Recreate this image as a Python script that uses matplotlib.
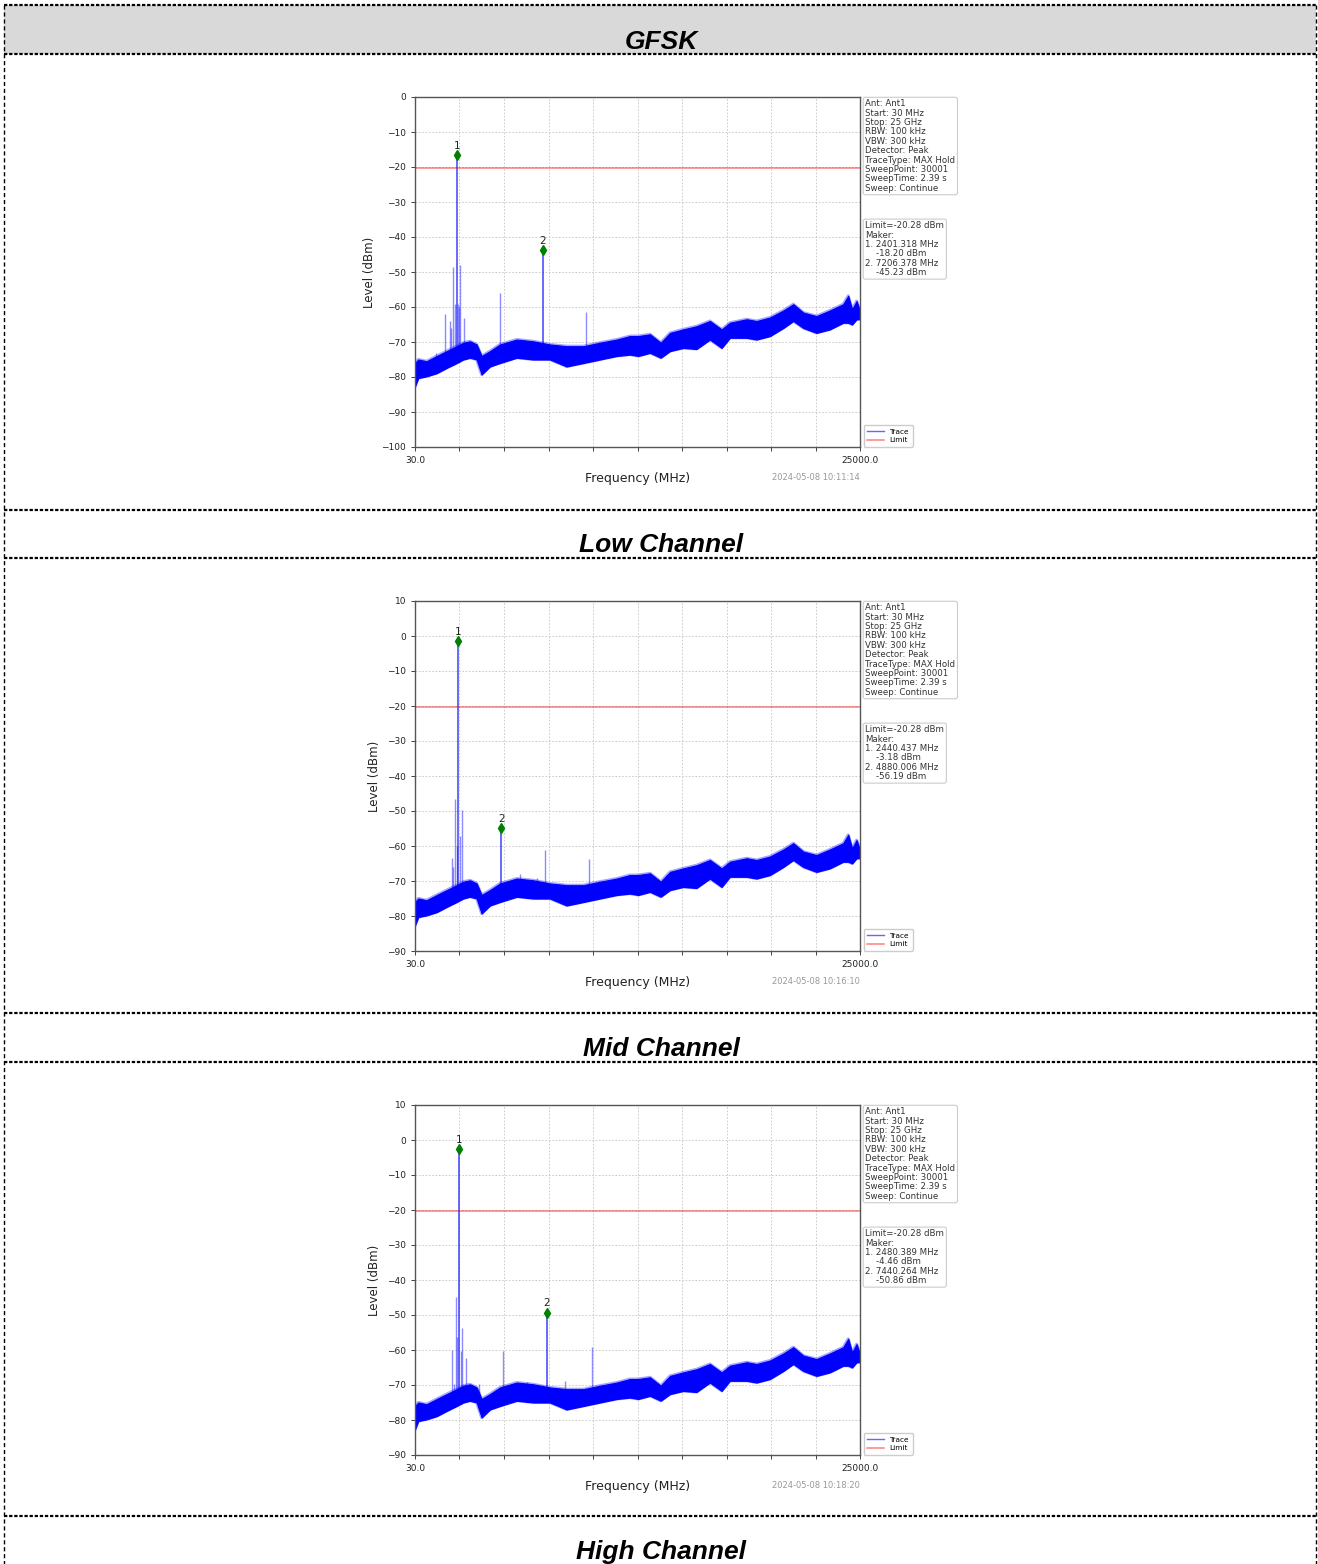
import numpy as np
import matplotlib
matplotlib.use('Agg')
import matplotlib.pyplot as plt
from matplotlib.patches import Rectangle
from matplotlib.lines import Line2D

'''DATA'''

#noise floor of the trace (MHz, lower / upper edge in dBm), same for all channels
floor_freq = [30, 215, 680, 1250, 1810, 2370, 2740, 3120, 3490, 3770,
              4240, 4800, 5740, 6670, 7600, 8540, 9480, 10410, 11350, 12090,
              12560, 13220, 13820, 14340, 15080, 15830, 16580, 17240, 17700, 18640,
              19200, 19950, 20700, 21260, 21820, 22560, 23310, 24060, 24340, 24560,
              24810, 24970]
floor_lo = [-82.7, -80.3, -79.8, -78.9, -77.4, -76.0, -75.0, -74.5, -75.0, -79.3,
            -77.0, -76.0, -74.5, -75.0, -75.0, -77.0, -76.0, -75.0, -74.0, -73.6,
            -74.0, -73.1, -74.5, -72.6, -71.7, -72.0, -69.3, -71.7, -68.8, -68.8,
            -69.3, -68.3, -66.0, -64.0, -66.0, -67.4, -66.4, -64.5, -64.5, -65.0,
            -63.5, -63.5]
floor_hi = [-76.0, -75.0, -75.5, -74.0, -72.6, -71.2, -70.2, -69.8, -70.7, -74.0,
            -72.6, -70.7, -69.3, -69.8, -70.7, -71.2, -71.2, -70.2, -69.3, -68.3,
            -68.3, -67.8, -70.2, -67.4, -66.4, -65.5, -64.0, -66.4, -64.5, -63.5,
            -64.0, -63.0, -61.0, -59.2, -61.6, -62.6, -61.0, -59.2, -56.8, -60.7,
            -58.3, -60.7]

#spurious spikes per channel (MHz, top in dBm)
low_spike_f = [1210, 1730, 1990, 2070, 2180, 2290, 2443, 2480, 2574, 2761, 4810, 9625, 11310]
low_spike_v = [-73, -62, -64, -66, -48.5, -59, -59, -60, -48, -63, -56, -61.5, -70.5]
mid_spike_f = [2089, 2180, 2275, 2370, 2555, 2667, 2850, 5900, 6860, 7343, 9793]
mid_spike_v = [-63.5, -66, -46.6, -60, -57, -49.8, -70, -68, -69, -61.1, -63.7]
high_spike_f = [2106, 2200, 2313, 2404, 2594, 2685, 2891, 3600, 4990, 6300, 8450, 9940]
high_spike_v = [-60, -69.7, -44.9, -56.4, -60.2, -53.7, -62.3, -69.7, -60.2, -69, -68.8, -59.2]

#markers (frequency, plotted level) and box readouts
low_mk_f = [2401.318, 7206.378]
low_mk_v = [-16.7, -43.7]
low_mk_txt = ['-18.20', '-45.23']
mid_mk_f = [2440.437, 4880.006]
mid_mk_v = [-1.5, -54.9]
mid_mk_txt = ['-3.18', '-56.19']
high_mk_f = [2480.389, 7440.264]
high_mk_v = [-2.6, -49.3]
high_mk_txt = ['-4.46', '-50.86']

limit = -20.28
f_start, f_stop = 30.0, 25000.0
stamps = ['2024-05-08 10:11:14', '2024-05-08 10:16:10', '2024-05-08 10:18:20']
ylims = [(-100, 0), (-90, 10), (-90, 10)]
row_titles = ['GFSK', 'Low Channel', 'Mid Channel', 'High Channel']

settings = ('Ant: Ant1\nStart: 30 MHz\nStop: 25 GHz\nRBW: 100 kHz\nVBW: 300 kHz\n'
            'Detector: Peak\nTraceType: MAX Hold\nSweepPoint: 30001\n'
            'SweepTime: 2.39 s\nSweep: Continue')

channels = [
    (low_spike_f, low_spike_v, low_mk_f, low_mk_v, low_mk_txt),
    (mid_spike_f, mid_spike_v, mid_mk_f, mid_mk_v, mid_mk_txt),
    (high_spike_f, high_spike_v, high_mk_f, high_mk_v, high_mk_txt),
]

'''FIGURE'''

W, H = 1318, 1564
fig = plt.figure(figsize=(W / 100, H / 100), dpi=100)

#table background, pixel coords
bg = fig.add_axes([0, 0, 1, 1])
bg.set_xlim(0, W)
bg.set_ylim(H, 0)
bg.axis('off')
bg.add_patch(Rectangle((4, 5), 1312, 49, fc='#d9d9d9', ec='none'))
for y in [5, 54, 510, 558, 1013, 1062, 1516]:
    bg.add_line(Line2D([4, 1316], [y, y], color='black', lw=1.6, ls=(0, (1.5, 0.8))))
for x in [4, 1316]:
    bg.add_line(Line2D([x, x], [5, H], color='black', lw=1.0, ls=(0, (3, 2))))
for y, t in zip([49, 552, 1056, 1559], row_titles):
    bg.text(661, y, t, ha='center', va='baseline', fontsize=19, fontweight='bold',
            fontstyle='italic', family='Liberation Sans', color='black')

tops = [97, 601, 1105]
for i, (sf, sv, mf, mv, mt) in enumerate(channels):
    ax = fig.add_axes([415 / W, 1 - (tops[i] + 350) / H, 445 / W, 350 / H])
    ax.set_xlim(f_start, f_stop)
    ax.set_ylim(*ylims[i])
    ax.set_yticks(np.arange(ylims[i][0], ylims[i][1] + 1, 10))
    xt = np.linspace(f_start, f_stop, 11)
    ax.set_xticks(xt)
    ax.set_xticklabels(['30.0'] + [''] * 9 + ['25000.0'])
    ax.tick_params(labelsize=6.5, length=3, width=0.6, colors='#222222')
    ax.grid(True, color='#c4c4c4', ls=(0, (2, 2)), lw=0.6)
    ax.set_axisbelow(True)
    for s in ax.spines.values():
        s.set_color('#555555')
        s.set_linewidth(1.0)

    #spikes under the noise band
    base = np.interp(sf, floor_freq, floor_lo)
    ax.vlines(sf, base, sv, color='blue', lw=1.0, alpha=0.45)
    mbase = np.interp(mf, floor_freq, floor_lo)
    ax.vlines(mf, mbase, mv, color='blue', lw=1.1, alpha=0.75)

    #noise band with soft edges
    ax.fill_between(floor_freq, floor_lo, floor_hi, color='blue', lw=0.8, ec='blue')
    ax.plot(floor_freq, floor_hi, color='blue', lw=2.2, alpha=0.35)
    ax.plot(floor_freq, floor_lo, color='blue', lw=2.2, alpha=0.35)
    ax.plot([], [], color='blue', lw=1, alpha=0.6, label='Trace')
    ax.axhline(limit, color='red', lw=1.1, alpha=0.5, label='Limit')

    ax.plot(mf, mv, 'd', color='green', ms=5)
    for k, (f, v) in enumerate(zip(mf, mv)):
        ax.text(f, v + 1.2, str(k + 1), ha='center', va='bottom', fontsize=7.5, color='#222222')

    ax.set_xlabel('Frequency (MHz)', fontsize=9, labelpad=5, color='#222222')
    ax.set_ylabel('Level (dBm)', fontsize=8.5, labelpad=4, color='#222222')
    ax.text(1.0, -0.087, stamps[i], transform=ax.transAxes, ha='right', va='center',
            fontsize=6, color='#999999')

    box = dict(boxstyle='round,pad=0.25', fc='white', ec='#cccccc', lw=0.8)
    ax.text(1.012, 0.993, settings, transform=ax.transAxes, ha='left', va='top',
            fontsize=6.2, color='#333333', bbox=box, linespacing=1.05)
    mk = ('Limit=%.2f dBm\nMaker:\n1. %.3f MHz\n    %s dBm\n2. %.3f MHz\n    %s dBm'
          % (limit, mf[0], mt[0], mf[1], mt[1]))
    ax.text(1.012, 0.645, mk, transform=ax.transAxes, ha='left', va='top',
            fontsize=6.2, color='#333333', bbox=box, linespacing=1.05)
    ax.legend(loc='lower left', bbox_to_anchor=(1.0, -0.01), fontsize=5.3,
              handlelength=2.2, borderpad=0.5, labelspacing=0.3, framealpha=1,
              edgecolor='#cccccc')

fig.savefig('out.png', dpi=100)
